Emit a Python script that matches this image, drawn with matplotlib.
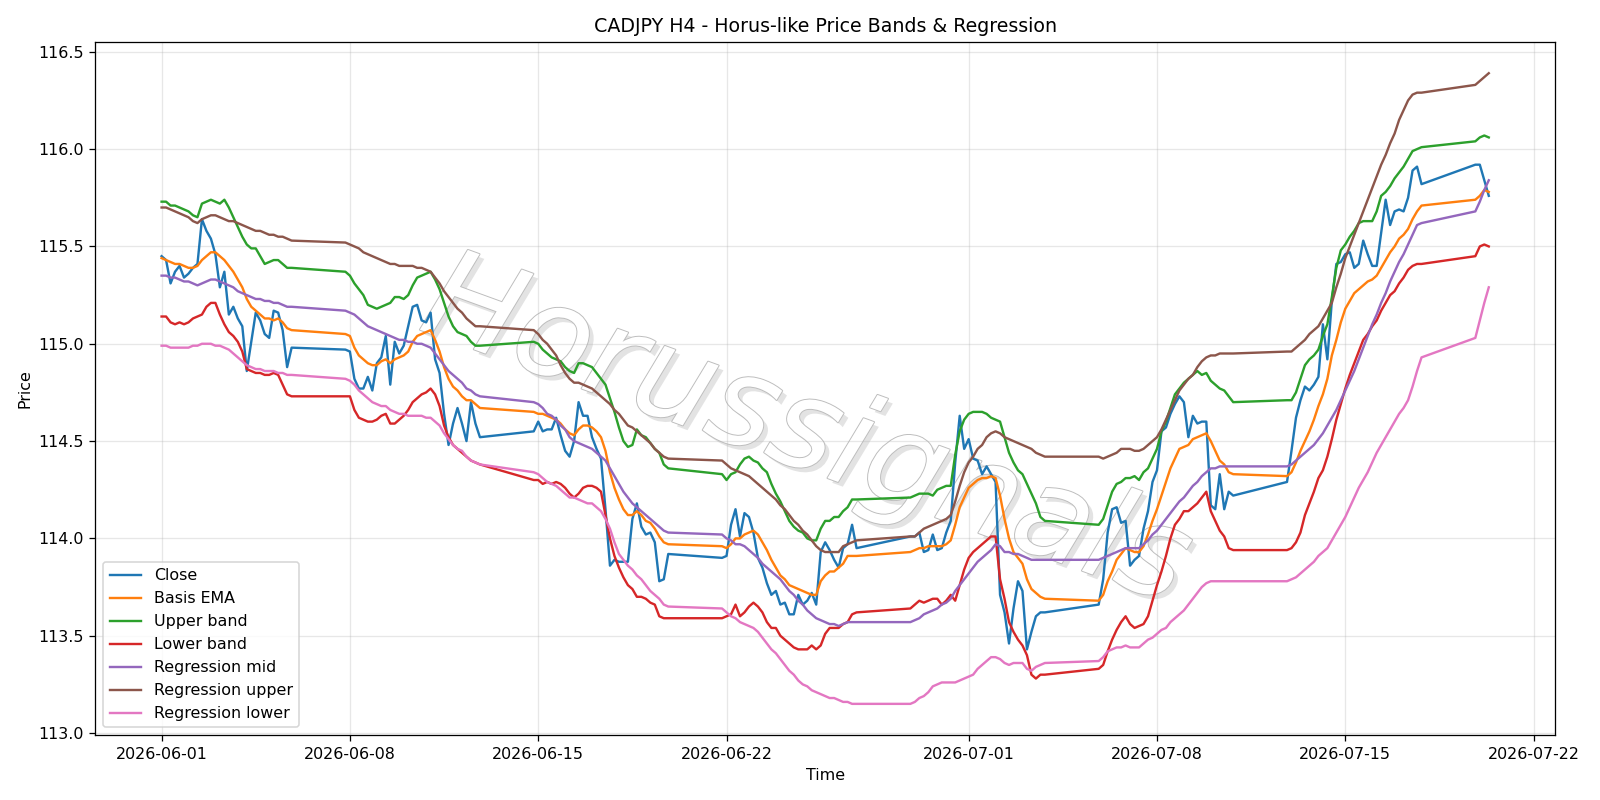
import numpy as np
import pandas as pd
import matplotlib
matplotlib.use("Agg")
from matplotlib import pyplot as plt
import matplotlib.patheffects as pe

"""
CADJPY H4 bars (Mon-Fri every 4h, plus the Sunday 20:00 open bar)
"""
bars = pd.date_range("2026-06-01 00:00", "2026-07-20 08:00", freq="4h")
bars = bars[(bars.dayofweek < 5) | ((bars.dayofweek == 6) & (bars.hour == 20))]

# one row per week, first value of weeks 2..8 is the Sunday 20:00 bar
close = [
    115.45, 115.43, 115.31, 115.37, 115.40, 115.34, 115.36, 115.39, 115.41, 115.64, 115.58, 115.54, 115.46, 115.29, 115.37,
    115.15, 115.19, 115.13, 115.09, 114.86, 115.01, 115.16, 115.12, 115.05, 115.03, 115.17, 115.16, 115.07, 114.88, 114.98,
    114.97, 114.96, 114.82, 114.77, 114.77, 114.83, 114.76, 114.90, 114.93, 115.04, 114.79, 115.01, 114.95, 114.99, 115.09, 115.19,
    115.20, 115.12, 115.11, 115.16, 114.92, 114.85, 114.64, 114.48, 114.59, 114.67, 114.59, 114.50, 114.70, 114.59, 114.52,
    114.55, 114.60, 114.55, 114.56, 114.56, 114.62, 114.53, 114.45, 114.42, 114.50, 114.70, 114.63, 114.63, 114.52, 114.46, 114.41,
    114.15, 113.86, 113.89, 113.88, 113.88, 113.88, 114.10, 114.18, 114.06, 114.02, 114.03, 113.98, 113.78, 113.79, 113.92,
    113.90, 113.91, 114.07, 114.15, 114.01, 114.13, 114.11, 114.03, 113.90, 113.85, 113.77, 113.71, 113.73, 113.66, 113.67, 113.61,
    113.61, 113.71, 113.66, 113.68, 113.72, 113.66, 113.93, 113.98, 113.94, 113.89, 113.85, 113.95, 113.97, 114.07, 113.95,
    114.01, 114.01, 114.03, 113.93, 113.94, 114.02, 113.94, 113.95, 114.03, 114.09, 114.39, 114.63, 114.46, 114.51, 114.41, 114.40,
    114.33, 114.37, 114.33, 114.29, 113.71, 113.62, 113.46, 113.64, 113.78, 113.73, 113.43, 113.52, 113.60, 113.62, 113.62,
    113.66, 113.79, 114.03, 114.15, 114.16, 114.08, 114.09, 113.86, 113.89, 113.91, 114.05, 114.14, 114.29, 114.35, 114.55, 114.57,
    114.64, 114.69, 114.73, 114.70, 114.52, 114.63, 114.59, 114.60, 114.60, 114.17, 114.15, 114.33, 114.15, 114.24, 114.22,
    114.29, 114.45, 114.62, 114.71, 114.78, 114.76, 114.79, 114.83, 115.10, 114.92, 115.22, 115.41, 115.42, 115.46, 115.47, 115.39,
    115.41, 115.53, 115.46, 115.40, 115.40, 115.57, 115.74, 115.61, 115.68, 115.69, 115.68, 115.75, 115.89, 115.91, 115.82,
    115.92, 115.92, 115.84, 115.76,
]

basis_ema = [
    115.44, 115.43, 115.42, 115.41, 115.41, 115.40, 115.39, 115.39, 115.40, 115.43, 115.45, 115.47, 115.47, 115.45, 115.43,
    115.40, 115.37, 115.33, 115.29, 115.23, 115.19, 115.17, 115.15, 115.13, 115.13, 115.12, 115.13, 115.11, 115.08, 115.07,
    115.05, 115.04, 114.98, 114.94, 114.92, 114.90, 114.89, 114.89, 114.91, 114.92, 114.90, 114.92, 114.93, 114.94, 114.96, 115.01,
    115.04, 115.05, 115.06, 115.07, 115.02, 114.96, 114.88, 114.82, 114.78, 114.76, 114.73, 114.71, 114.71, 114.69, 114.67,
    114.65, 114.64, 114.64, 114.63, 114.62, 114.61, 114.59, 114.56, 114.54, 114.53, 114.56, 114.58, 114.58, 114.57, 114.55, 114.52,
    114.45, 114.34, 114.26, 114.20, 114.15, 114.12, 114.12, 114.14, 114.12, 114.09, 114.08, 114.05, 114.01, 113.98, 113.97,
    113.96, 113.95, 113.97, 114.00, 114.00, 114.02, 114.03, 114.04, 114.02, 113.98, 113.94, 113.89, 113.85, 113.81, 113.79, 113.76,
    113.75, 113.74, 113.73, 113.72, 113.71, 113.71, 113.78, 113.81, 113.83, 113.83, 113.85, 113.87, 113.91, 113.91, 113.91,
    113.93, 113.94, 113.95, 113.95, 113.96, 113.96, 113.96, 113.96, 113.97, 113.99, 114.07, 114.16, 114.21, 114.26, 114.28, 114.30,
    114.31, 114.31, 114.32, 114.31, 114.22, 114.10, 114.00, 113.93, 113.90, 113.87, 113.79, 113.74, 113.72, 113.70, 113.69,
    113.68, 113.71, 113.78, 113.83, 113.89, 113.92, 113.95, 113.94, 113.93, 113.93, 113.96, 114.02, 114.09, 114.15, 114.22, 114.29,
    114.36, 114.41, 114.46, 114.47, 114.48, 114.51, 114.52, 114.53, 114.54, 114.50, 114.45, 114.40, 114.38, 114.34, 114.33,
    114.32, 114.34, 114.39, 114.45, 114.50, 114.55, 114.61, 114.68, 114.74, 114.82, 114.94, 115.02, 115.11, 115.18, 115.22, 115.26,
    115.28, 115.30, 115.32, 115.33, 115.35, 115.39, 115.43, 115.47, 115.50, 115.54, 115.56, 115.59, 115.64, 115.68, 115.71,
    115.74, 115.76, 115.79, 115.78,
]

upper_band = [
    115.73, 115.73, 115.71, 115.71, 115.70, 115.69, 115.68, 115.66, 115.65, 115.72, 115.73, 115.74, 115.73, 115.72, 115.74,
    115.70, 115.65, 115.60, 115.55, 115.51, 115.49, 115.49, 115.45, 115.41, 115.42, 115.43, 115.43, 115.41, 115.39, 115.39,
    115.37, 115.35, 115.31, 115.28, 115.25, 115.20, 115.19, 115.18, 115.19, 115.20, 115.21, 115.24, 115.24, 115.23, 115.25, 115.30,
    115.34, 115.35, 115.36, 115.37, 115.33, 115.28, 115.21, 115.14, 115.09, 115.06, 115.05, 115.04, 115.01, 114.99, 114.99,
    115.01, 115.00, 114.97, 114.95, 114.93, 114.92, 114.91, 114.88, 114.86, 114.85, 114.90, 114.90, 114.89, 114.88, 114.85, 114.82,
    114.79, 114.72, 114.65, 114.57, 114.50, 114.47, 114.48, 114.56, 114.53, 114.52, 114.49, 114.46, 114.44, 114.38, 114.36,
    114.33, 114.30, 114.33, 114.34, 114.38, 114.41, 114.42, 114.40, 114.39, 114.36, 114.34, 114.28, 114.23, 114.19, 114.14, 114.09,
    114.06, 114.04, 114.03, 114.00, 113.99, 113.99, 114.05, 114.09, 114.09, 114.11, 114.11, 114.14, 114.16, 114.20, 114.20,
    114.21, 114.22, 114.23, 114.23, 114.23, 114.22, 114.25, 114.26, 114.27, 114.27, 114.43, 114.55, 114.61, 114.64, 114.65, 114.65,
    114.65, 114.64, 114.62, 114.61, 114.60, 114.52, 114.44, 114.39, 114.35, 114.33, 114.28, 114.23, 114.18, 114.11, 114.09,
    114.07, 114.10, 114.17, 114.24, 114.28, 114.29, 114.31, 114.31, 114.32, 114.30, 114.34, 114.36, 114.41, 114.46, 114.55, 114.60,
    114.67, 114.74, 114.77, 114.80, 114.82, 114.84, 114.86, 114.84, 114.85, 114.81, 114.79, 114.77, 114.76, 114.73, 114.70,
    114.71, 114.71, 114.75, 114.82, 114.89, 114.92, 114.94, 114.97, 115.04, 115.10, 115.24, 115.39, 115.48, 115.51, 115.55, 115.58,
    115.62, 115.63, 115.63, 115.63, 115.68, 115.76, 115.78, 115.81, 115.85, 115.88, 115.91, 115.95, 115.99, 116.00, 116.01,
    116.04, 116.06, 116.07, 116.06,
]

lower_band = [
    115.14, 115.14, 115.11, 115.10, 115.11, 115.10, 115.11, 115.13, 115.14, 115.15, 115.19, 115.21, 115.21, 115.15, 115.10,
    115.06, 115.04, 115.01, 114.96, 114.87, 114.86, 114.85, 114.85, 114.84, 114.84, 114.85, 114.84, 114.79, 114.74, 114.73,
    114.73, 114.73, 114.66, 114.62, 114.61, 114.60, 114.60, 114.61, 114.63, 114.64, 114.59, 114.59, 114.61, 114.63, 114.66, 114.70,
    114.72, 114.74, 114.75, 114.77, 114.74, 114.68, 114.58, 114.52, 114.48, 114.46, 114.44, 114.42, 114.40, 114.39, 114.38,
    114.30, 114.30, 114.28, 114.29, 114.28, 114.29, 114.28, 114.26, 114.23, 114.21, 114.23, 114.26, 114.27, 114.27, 114.26, 114.24,
    114.12, 114.00, 113.91, 113.85, 113.80, 113.76, 113.74, 113.70, 113.70, 113.69, 113.67, 113.66, 113.60, 113.59, 113.59,
    113.59, 113.60, 113.61, 113.66, 113.60, 113.62, 113.65, 113.67, 113.65, 113.62, 113.57, 113.54, 113.54, 113.50, 113.48, 113.46,
    113.44, 113.43, 113.43, 113.43, 113.45, 113.43, 113.45, 113.51, 113.54, 113.54, 113.54, 113.56, 113.57, 113.61, 113.62,
    113.64, 113.66, 113.68, 113.67, 113.68, 113.69, 113.69, 113.66, 113.68, 113.71, 113.68, 113.76, 113.84, 113.90, 113.93, 113.95,
    113.97, 113.99, 114.01, 114.01, 113.79, 113.69, 113.57, 113.52, 113.48, 113.45, 113.40, 113.30, 113.28, 113.30, 113.30,
    113.33, 113.35, 113.42, 113.48, 113.53, 113.57, 113.60, 113.56, 113.54, 113.55, 113.56, 113.60, 113.68, 113.76, 113.83, 113.91,
    114.00, 114.07, 114.10, 114.14, 114.14, 114.16, 114.18, 114.21, 114.24, 114.14, 114.09, 114.04, 114.01, 113.95, 113.94,
    113.94, 113.95, 113.98, 114.03, 114.12, 114.18, 114.24, 114.31, 114.35, 114.42, 114.51, 114.61, 114.69, 114.77, 114.84, 114.90,
    114.96, 115.02, 115.05, 115.09, 115.12, 115.17, 115.21, 115.25, 115.27, 115.31, 115.34, 115.38, 115.40, 115.41, 115.41,
    115.45, 115.50, 115.51, 115.50,
]

reg_mid = [
    115.35, 115.35, 115.34, 115.34, 115.33, 115.32, 115.32, 115.31, 115.30, 115.31, 115.32, 115.33, 115.33, 115.32, 115.31,
    115.30, 115.29, 115.27, 115.26, 115.25, 115.24, 115.23, 115.23, 115.22, 115.22, 115.21, 115.21, 115.20, 115.19, 115.19,
    115.17, 115.16, 115.15, 115.13, 115.11, 115.09, 115.08, 115.07, 115.06, 115.05, 115.04, 115.03, 115.02, 115.02, 115.01, 115.01,
    115.00, 115.00, 114.99, 114.98, 114.95, 114.92, 114.89, 114.86, 114.84, 114.82, 114.80, 114.77, 114.76, 114.74, 114.73,
    114.70, 114.69, 114.67, 114.64, 114.63, 114.61, 114.58, 114.56, 114.52, 114.50, 114.49, 114.48, 114.47, 114.46, 114.44, 114.42,
    114.40, 114.36, 114.32, 114.28, 114.24, 114.21, 114.18, 114.16, 114.14, 114.12, 114.10, 114.08, 114.06, 114.04, 114.03,
    114.02, 114.00, 113.99, 113.97, 113.97, 113.96, 113.94, 113.92, 113.90, 113.87, 113.85, 113.83, 113.81, 113.79, 113.76, 113.73,
    113.71, 113.68, 113.66, 113.63, 113.61, 113.59, 113.58, 113.57, 113.56, 113.56, 113.55, 113.56, 113.57, 113.57, 113.57,
    113.57, 113.58, 113.59, 113.61, 113.62, 113.63, 113.64, 113.66, 113.67, 113.69, 113.73, 113.76, 113.79, 113.82, 113.85, 113.88,
    113.90, 113.92, 113.94, 113.97, 113.96, 113.93, 113.93, 113.92, 113.92, 113.91, 113.90, 113.89, 113.89, 113.89, 113.89,
    113.89, 113.90, 113.91, 113.92, 113.93, 113.94, 113.95, 113.95, 113.95, 113.95, 113.97, 113.99, 114.02, 114.04, 114.07, 114.10,
    114.13, 114.16, 114.19, 114.21, 114.24, 114.27, 114.29, 114.32, 114.34, 114.36, 114.36, 114.37, 114.37, 114.37, 114.37,
    114.37, 114.38, 114.40, 114.42, 114.44, 114.46, 114.48, 114.51, 114.54, 114.58, 114.62, 114.66, 114.71, 114.76, 114.81, 114.86,
    114.92, 114.98, 115.04, 115.10, 115.15, 115.21, 115.26, 115.32, 115.37, 115.42, 115.46, 115.51, 115.56, 115.61, 115.62,
    115.68, 115.73, 115.79, 115.84,
]

reg_upper = [
    115.70, 115.70, 115.69, 115.68, 115.67, 115.66, 115.65, 115.63, 115.62, 115.64, 115.65, 115.66, 115.66, 115.65, 115.64,
    115.63, 115.63, 115.62, 115.61, 115.60, 115.59, 115.58, 115.58, 115.57, 115.56, 115.56, 115.55, 115.55, 115.54, 115.53,
    115.52, 115.51, 115.50, 115.49, 115.47, 115.46, 115.45, 115.44, 115.43, 115.42, 115.41, 115.41, 115.40, 115.40, 115.40, 115.40,
    115.39, 115.39, 115.38, 115.37, 115.34, 115.31, 115.27, 115.24, 115.21, 115.18, 115.16, 115.13, 115.11, 115.09, 115.09,
    115.07, 115.05, 115.02, 115.00, 114.97, 114.94, 114.89, 114.85, 114.82, 114.80, 114.80, 114.79, 114.78, 114.77, 114.75, 114.73,
    114.71, 114.69, 114.66, 114.64, 114.61, 114.58, 114.57, 114.55, 114.53, 114.51, 114.49, 114.46, 114.44, 114.42, 114.41,
    114.40, 114.38, 114.36, 114.35, 114.34, 114.33, 114.32, 114.30, 114.28, 114.26, 114.24, 114.22, 114.20, 114.17, 114.15, 114.12,
    114.09, 114.07, 114.04, 114.02, 113.99, 113.96, 113.94, 113.93, 113.93, 113.93, 113.93, 113.96, 113.97, 113.98, 113.99,
    114.01, 114.01, 114.03, 114.05, 114.06, 114.07, 114.08, 114.09, 114.10, 114.12, 114.19, 114.27, 114.34, 114.39, 114.42, 114.46,
    114.48, 114.52, 114.54, 114.55, 114.54, 114.52, 114.51, 114.50, 114.49, 114.48, 114.47, 114.46, 114.44, 114.43, 114.42,
    114.42, 114.41, 114.42, 114.43, 114.44, 114.46, 114.46, 114.46, 114.45, 114.45, 114.46, 114.48, 114.50, 114.52, 114.56, 114.61,
    114.66, 114.71, 114.76, 114.79, 114.82, 114.84, 114.88, 114.91, 114.93, 114.94, 114.94, 114.95, 114.95, 114.95, 114.95,
    114.96, 114.96, 114.98, 115.00, 115.02, 115.05, 115.07, 115.09, 115.13, 115.17, 115.21, 115.29, 115.36, 115.44, 115.50, 115.56,
    115.62, 115.68, 115.74, 115.80, 115.86, 115.92, 115.97, 116.03, 116.08, 116.15, 116.20, 116.25, 116.28, 116.29, 116.29,
    116.33, 116.35, 116.37, 116.39,
]

reg_lower = [
    114.99, 114.99, 114.98, 114.98, 114.98, 114.98, 114.98, 114.99, 114.99, 115.00, 115.00, 115.00, 114.99, 114.99, 114.98,
    114.97, 114.95, 114.93, 114.91, 114.89, 114.88, 114.87, 114.87, 114.86, 114.86, 114.86, 114.85, 114.85, 114.84, 114.84,
    114.82, 114.81, 114.79, 114.76, 114.74, 114.72, 114.70, 114.69, 114.68, 114.68, 114.66, 114.65, 114.64, 114.64, 114.63, 114.63,
    114.63, 114.63, 114.62, 114.62, 114.60, 114.58, 114.54, 114.51, 114.48, 114.46, 114.45, 114.42, 114.40, 114.39, 114.38,
    114.34, 114.33, 114.31, 114.29, 114.28, 114.27, 114.25, 114.23, 114.21, 114.21, 114.20, 114.19, 114.18, 114.18, 114.16, 114.14,
    114.10, 114.05, 113.98, 113.92, 113.89, 113.86, 113.84, 113.81, 113.79, 113.76, 113.73, 113.71, 113.69, 113.66, 113.65,
    113.64, 113.62, 113.60, 113.59, 113.57, 113.56, 113.55, 113.54, 113.52, 113.49, 113.46, 113.43, 113.41, 113.38, 113.35, 113.32,
    113.30, 113.27, 113.25, 113.24, 113.22, 113.21, 113.20, 113.19, 113.18, 113.18, 113.17, 113.16, 113.16, 113.15, 113.15,
    113.15, 113.16, 113.18, 113.19, 113.21, 113.24, 113.25, 113.26, 113.26, 113.26, 113.26, 113.27, 113.28, 113.29, 113.30, 113.33,
    113.35, 113.37, 113.39, 113.39, 113.38, 113.36, 113.35, 113.36, 113.36, 113.36, 113.33, 113.32, 113.34, 113.35, 113.36,
    113.37, 113.39, 113.42, 113.43, 113.44, 113.44, 113.45, 113.44, 113.44, 113.44, 113.46, 113.48, 113.49, 113.51, 113.53, 113.54,
    113.57, 113.59, 113.61, 113.63, 113.66, 113.69, 113.72, 113.75, 113.77, 113.78, 113.78, 113.78, 113.78, 113.78, 113.78,
    113.78, 113.79, 113.80, 113.82, 113.84, 113.86, 113.88, 113.91, 113.93, 113.95, 113.99, 114.03, 114.07, 114.11, 114.16, 114.21,
    114.26, 114.30, 114.34, 114.39, 114.44, 114.48, 114.52, 114.56, 114.60, 114.64, 114.67, 114.71, 114.78, 114.86, 114.93,
    115.03, 115.12, 115.21, 115.29,
]

df = pd.DataFrame({
    "Close": close,
    "Basis EMA": basis_ema,
    "Upper band": upper_band,
    "Lower band": lower_band,
    "Regression mid": reg_mid,
    "Regression upper": reg_upper,
    "Regression lower": reg_lower,
}, index=bars)

fig, ax = plt.subplots(figsize=(14, 7), dpi=1600 / 14)
for col in df.columns:
    ax.plot(df.index, df[col], label=col)

ax.set_title("CADJPY H4 - Horus-like Price Bands & Regression")
ax.set_xlabel("Time")
ax.set_ylabel("Price")
ax.grid(True, alpha=0.3)
ax.legend(loc="lower left")

# watermark: pale outlined italic text with a soft shadow
ax.text(0.487, 0.435, "Horussignals", transform=ax.transAxes, fontsize=79,
        style="italic", color="white", rotation=-20,
        ha="center", va="center", zorder=0,
        path_effects=[pe.SimplePatchShadow(offset=(3, -3), shadow_rgbFace="0.82", alpha=0.6),
                      pe.Stroke(linewidth=1.2, foreground="0.74"),
                      pe.Normal()])

fig.tight_layout()
fig.savefig("out.png", dpi=1600 / 14)
